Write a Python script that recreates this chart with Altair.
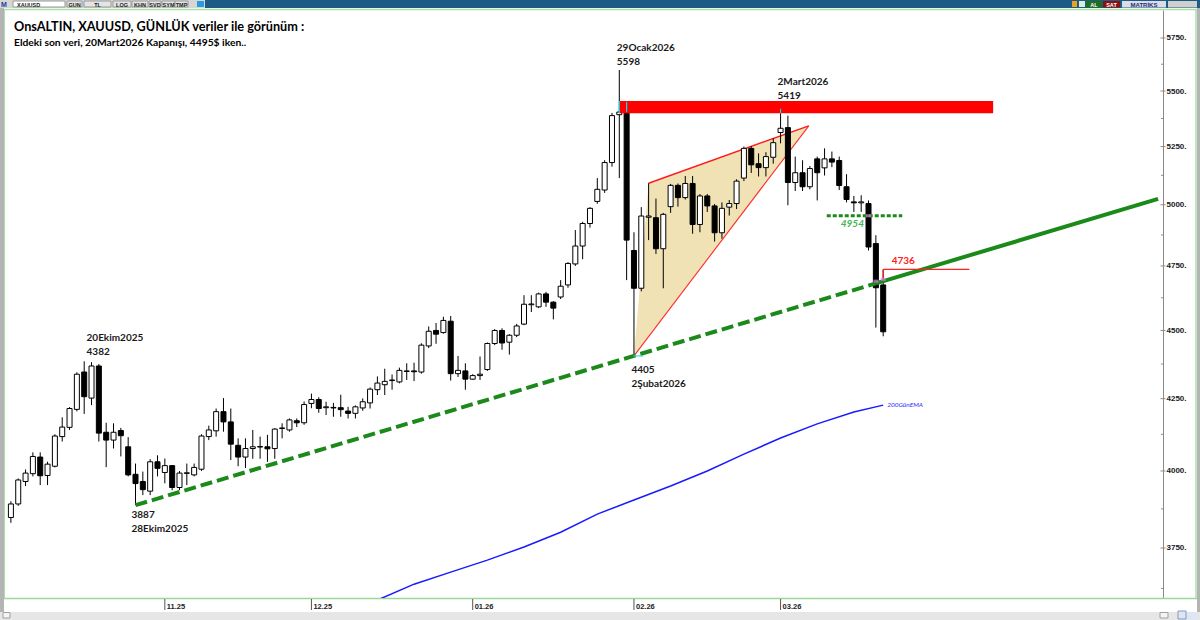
import altair as alt
import pandas as pd

# ---------------- values ----------------
# daily candles (bar index 0 = 3 Oct 2025 ... 119 = 20 Mar 2026)
opens = [3847, 3891, 3965, 3991, 4047, 3985, 4016, 4117, 4149, 4212,
         4346, 4252, 4368, 4132, 4105, 4138, 4082, 3989, 3965, 3933,
         4031, 3995, 4018, 3945, 3992, 3987, 4006, 4117, 4137, 4204,
         4168, 4087, 4047, 4076, 4081, 4082, 4076, 4145, 4140, 4172,
         4165, 4233, 4247, 4218, 4219, 4218, 4206, 4198, 4217, 4235,
         4282, 4300, 4315, 4310, 4348, 4350, 4346, 4442, 4500, 4492,
         4535, 4340, 4350, 4320, 4333, 4355, 4451, 4500, 4456, 4482,
         4524, 4598, 4590, 4640, 4608, 4628, 4675, 4758, 4830, 4922,
         5014, 5062, 5180, 5392, 5405, 4812, 4662, 4948, 4946, 4819,
         4992, 5082, 5030, 5090, 4918, 5037, 4995, 4884, 4990, 5005,
         5113, 5242, 5175, 5158, 5203, 5312, 5334, 5094, 5136, 5076,
         5196, 5157, 5196, 5189, 5076, 5012, 5008, 5005, 4840, 4675]
highs = [3900, 3975, 4005, 4063, 4063, 4031, 4125, 4184, 4220, 4345,
         4385, 4382, 4375, 4165, 4163, 4147, 4115, 4025, 3998, 4040,
         4053, 4042, 4020, 4000, 4025, 4025, 4125, 4155, 4215, 4252,
         4215, 4111, 4111, 4140, 4117, 4123, 4146, 4163, 4180, 4180,
         4240, 4268, 4255, 4239, 4235, 4264, 4221, 4226, 4251, 4290,
         4330, 4358, 4337, 4362, 4378, 4380, 4452, 4515, 4528, 4552,
         4555, 4405, 4378, 4338, 4403, 4455, 4505, 4508, 4486, 4525,
         4635, 4635, 4645, 4648, 4612, 4694, 4765, 4895, 4929, 4990,
         5113, 5190, 5400, 5598, 5450, 4886, 4990, 5091, 5026, 4966,
         5088, 5090, 5122, 5122, 5045, 5045, 5003, 5010, 5020, 5108,
         5250, 5252, 5220, 5225, 5286, 5419, 5388, 5206, 5190, 5165,
         5206, 5242, 5228, 5206, 5130, 5037, 5040, 5018, 4874, 4736]
lows = [3830, 3885, 3950, 3982, 3953, 3953, 4012, 4100, 4140, 4205,
        4196, 4227, 4100, 4013, 4076, 4049, 3982, 3887, 3920, 3920,
        3982, 3959, 3936, 3936, 3953, 3982, 4000, 4105, 4117, 4134,
        4037, 4016, 4010, 4041, 4041, 4031, 4041, 4111, 4134, 4150,
        4158, 4216, 4200, 4192, 4186, 4186, 4180, 4180, 4207, 4215,
        4263, 4263, 4282, 4305, 4317, 4313, 4340, 4434, 4450, 4488,
        4315, 4328, 4282, 4318, 4317, 4350, 4445, 4428, 4410, 4475,
        4520, 4570, 4585, 4590, 4542, 4620, 4664, 4750, 4777, 4905,
        5004, 5050, 5162, 5113, 4694, 4405, 4650, 4854, 4798, 4662,
        4966, 4992, 5022, 4880, 4886, 4970, 4848, 4860, 4955, 4982,
        5100, 5135, 5120, 5120, 5175, 5264, 4998, 5058, 5058, 5065,
        5018, 5124, 5160, 5062, 5010, 4970, 4970, 4812, 4511, 4478]
closes = [3891, 3970, 3993, 4049, 3984, 4023, 4119, 4150, 4215, 4338,
          4257, 4368, 4129, 4105, 4132, 4120, 3987, 3958, 3938, 4031,
          4009, 4018, 3945, 3993, 3994, 4012, 4119, 4140, 4204, 4168,
          4091, 4047, 4076, 4082, 4083, 4075, 4143, 4147, 4175, 4165,
          4229, 4247, 4215, 4221, 4217, 4211, 4198, 4221, 4239, 4284,
          4306, 4312, 4317, 4352, 4350, 4347, 4445, 4497, 4486, 4538,
          4340, 4352, 4320, 4333, 4338, 4451, 4500, 4453, 4482, 4517,
          4600, 4601, 4640, 4608, 4585, 4670, 4760, 4830, 4922, 4985,
          5065, 5180, 5388, 5404, 4854, 4662, 4953, 4953, 4819, 4960,
          5082, 5030, 5090, 4918, 5037, 4995, 4884, 4985, 5005, 5100,
          5242, 5170, 5158, 5206, 5267, 5331, 5094, 5136, 5076, 5154,
          5136, 5196, 5182, 5081, 5022, 5008, 5012, 4826, 4664, 4495]

month_labels = ["11.25", "12.25", "01.26", "02.26", "03.26"]
month_bars = [21, 41, 63, 85, 105]

ytick_values = [3750, 4000, 4250, 4500, 4750, 5000, 5250, 5500, 5750]
yminor_values = [3625, 3875, 4125, 4375, 4625, 4875, 5125, 5375, 5625]

# 200-day EMA (blue) read at a few bars
ema_bars = [50, 55, 60, 65, 70, 75, 80, 85, 90, 95, 100, 105, 110, 115, 119]
ema_values = [3590, 3638, 3675, 3712, 3753, 3800, 3858, 3904, 3950, 4000,
              4057, 4112, 4161, 4203, 4227]

# red resistance zone
zone_bars = [83, 134]
zone_prices = [5398, 5454]

# green rising trend line (dashed part, then solid part)
trend_dash_bars = [17, 118]
trend_dash_prices = [3887, 4681]
trend_solid_bars = [118, 156.5]
trend_solid_prices = [4681, 5025]

# rising wedge (triangle)
wedge_bars = [85, 87, 108.85]
wedge_upper = [4405, 5091, 5342]
wedge_lower = [4405, 4478, 5342]

# levels
support_level = 4954
support_bars = [111.3, 121.6]
res_level = 4736
res_bars = [119, 130.75]

# ---------------- layout ----------------
W, H = 1158, 588
LEFT, TOP = 5, 10
XS = alt.Scale(domain=[-0.122, 156.49], nice=False, zero=False)
YS = alt.Scale(type="log", domain=[3596.1, 5886.5], nice=False, zero=False)
YAX = alt.Axis(orient="right", values=ytick_values, labelExpr="datum.value + '.'",
               ticks=False, grid=False, domainColor="#8a8a8a", domainWidth=1,
               labelFont="Liberation Sans", labelFontSize=8, labelFontWeight="bold",
               labelColor="#1a1a1a", labelPadding=3, labelFlush=False,
               labelOverlap=False, title=None)


def X(f):
    return alt.X(f, type="quantitative", scale=XS, axis=None)


def Y(f):
    return alt.Y(f, type="quantitative", scale=YS, axis=YAX)


one = pd.DataFrame({"k": [0]})


def px_rect(x1, y1, x2, y2, fill, stroke=""):
    kw = dict(fill=fill)
    if stroke:
        kw.update(stroke=stroke, strokeWidth=1)
    return alt.Chart(one).mark_rect(**kw).encode(
        x=alt.value(x1 - LEFT), x2=alt.value(x2 - LEFT),
        y=alt.value(y1 - TOP), y2=alt.value(y2 - TOP))


def px_rule(x1, y1, x2, y2, color, width=1.0):
    return alt.Chart(one).mark_rule(color=color, strokeWidth=width).encode(
        x=alt.value(x1 - LEFT), x2=alt.value(x2 - LEFT),
        y=alt.value(y1 - TOP), y2=alt.value(y2 - TOP))


def px_text(t, x, y, size, color="#000000", weight="normal", font="Lato",
            align="left", baseline="alphabetic", style="normal"):
    return alt.Chart(pd.DataFrame({"t": [t]})).mark_text(
        font=font, fontSize=size, fontWeight=weight, fontStyle=style,
        color=color, align=align, baseline=baseline).encode(
        x=alt.value(x - LEFT), y=alt.value(y - TOP), text="t:N")


def note(t, i, p, dx, dy, size=10, color="#1a1a1a", weight="bold", style="normal"):
    return alt.Chart(pd.DataFrame({"t": [t], "i": [i], "p": [p]})).mark_text(
        font="Lato", fontSize=size, fontWeight=weight, fontStyle=style, color=color,
        align="left", baseline="middle", dx=dx, dy=dy).encode(
        x=X("i"), y=Y("p"), text="t:N")


candles = pd.DataFrame({"i": list(range(len(opens))), "o": opens, "h": highs,
                        "l": lows, "c": closes})

layers = []

# wedge fill + edges
wedge = pd.DataFrame({"i": wedge_bars, "u": wedge_upper, "lo": wedge_lower})
layers.append(alt.Chart(wedge).mark_area(color="#f0e2b4", opacity=1).encode(
    x=X("i"), y=Y("u"), y2=alt.Y2("lo")))
upper_edge = pd.DataFrame({"i": wedge_bars[1:], "p": wedge_upper[1:]})
lower_edge = pd.DataFrame({"i": [wedge_bars[0], wedge_bars[2]],
                           "p": [wedge_lower[0], wedge_lower[2]]})
layers.append(alt.Chart(upper_edge).mark_line(color="#ff1a1a", strokeWidth=1.4).encode(
    x=X("i"), y=Y("p")))
layers.append(alt.Chart(lower_edge).mark_line(color="#ff2a2a", strokeWidth=1.1).encode(
    x=X("i"), y=Y("p")))

# EMA
ema = pd.DataFrame({"i": ema_bars, "p": ema_values})
layers.append(alt.Chart(ema).mark_line(color="#1a1aff", strokeWidth=1.5, clip=True).encode(
    x=X("i"), y=Y("p")))

# candles
layers.append(alt.Chart(candles).mark_rule(color="#000000", strokeWidth=1).encode(
    x=X("i"), y=Y("l"), y2=alt.Y2("h")))
layers.append(alt.Chart(candles).mark_bar(width=5, stroke="#000000", strokeWidth=1).encode(
    x=X("i"), y=Y("o"), y2=alt.Y2("c"),
    fill=alt.condition("datum.c >= datum.o", alt.value("#ffffff"), alt.value("#000000"))))

# red resistance zone
zone = pd.DataFrame({"i0": [zone_bars[0]], "i1": [zone_bars[1]],
                     "p0": [zone_prices[0]], "p1": [zone_prices[1]]})
layers.append(alt.Chart(zone).mark_rect(color="#ff0000").encode(
    x=X("i0"), x2=alt.X2("i1"), y=Y("p0"), y2=alt.Y2("p1")))
# wick parts inside the zone (cyan)
cy = pd.DataFrame({"i": [83, 84, 105], "a": [5398, 5405, 5398], "b": [5454, 5450, 5419]})
layers.append(alt.Chart(cy).mark_rule(color="#22d3e6", strokeWidth=1.2).encode(
    x=X("i"), y=Y("a"), y2=alt.Y2("b")))

# green trend line
td = pd.DataFrame({"i": trend_dash_bars, "p": trend_dash_prices})
ts = pd.DataFrame({"i": trend_solid_bars, "p": trend_solid_prices})
layers.append(alt.Chart(td).mark_line(color="#1b8a1b", strokeWidth=4, strokeDash=[12, 5],
                                      clip=True).encode(x=X("i"), y=Y("p")))
layers.append(alt.Chart(ts).mark_line(color="#1b8a1b", strokeWidth=4, clip=True).encode(
    x=X("i"), y=Y("p")))

# dotted support 4954
sup = pd.DataFrame({"i": support_bars, "p": [support_level, support_level]})
layers.append(alt.Chart(sup).mark_line(color="#1b8a1b", strokeWidth=3, strokeDash=[4, 2]).encode(
    x=X("i"), y=Y("p")))
# red 4736 line
res = pd.DataFrame({"i": res_bars, "p": [res_level, res_level]})
layers.append(alt.Chart(res).mark_line(color="#ff2020", strokeWidth=1.3).encode(
    x=X("i"), y=Y("p")))
resv = pd.DataFrame({"i": [res_bars[0]], "a": [res_level], "b": [4700]})
layers.append(alt.Chart(resv).mark_rule(color="#ff2020", strokeWidth=1.3).encode(
    x=X("i"), y=Y("a"), y2=alt.Y2("b")))

# pink crossing marks
pk = pd.DataFrame({"i": [117, 118, 119], "p": [support_level, 4690, 4697]})
layers.append(alt.Chart(pk).mark_tick(orient="horizontal", size=5, thickness=3,
                                      color="#e879e8").encode(x=X("i"), y=Y("p")))
ck = pd.DataFrame({"i": [85.6], "p": [4405]})
layers.append(alt.Chart(ck).mark_tick(orient="horizontal", size=10, thickness=1.5,
                                      color="#22d3e6").encode(x=X("i"), y=Y("p")))

# annotations
layers.append(note("20Ekim2025", 11, highs[11], -5, -24))
layers.append(note("4382", 11, highs[11], -5, -10))
layers.append(note("3887", 17, lows[17], -4, 10))
layers.append(note("28Ekim2025", 17, lows[17], -4, 24))
layers.append(note("29Ocak2026", 83, highs[83], -2.5, -22))
layers.append(note("5598", 83, highs[83], -2.5, -8))
layers.append(note("2Mart2026", 105, highs[105], -3, -27))
layers.append(note("5419", 105, highs[105], -3, -13))
layers.append(note("4405", 85, lows[85], -2.5, 14))
layers.append(note("2Şubat2026", 85, lows[85], -2.5, 28))
layers.append(note("4954", support_bars[0], support_level, 14, 8.5, size=10,
                   color="#3fb555", weight="bold", style="italic"))
layers.append(note("4736", res_bars[0], res_level, 8.5, -8, size=10,
                   color="#ff2020", weight="bold"))
layers.append(note("200GünEMA", ema_bars[-1], ema_values[-1], 4, 0, size=6.5,
                   color="#2a2aff", weight="normal", style="italic"))

# right axis ticks (major crossing the axis line, minor inside)
yt = pd.DataFrame({"p": ytick_values})
layers.append(alt.Chart(yt).mark_rule(color="#8a8a8a", strokeWidth=1).encode(
    x=alt.value(W - 2.5), x2=alt.value(W + 2.5), y=Y("p")))
ym = pd.DataFrame({"p": yminor_values})
layers.append(alt.Chart(ym).mark_rule(color="#8a8a8a", strokeWidth=1).encode(
    x=alt.value(W - 2), x2=alt.value(W), y=Y("p")))

# month ticks and labels
mt = pd.DataFrame({"i": month_bars, "t": month_labels})
layers.append(alt.Chart(mt).mark_rule(color="#555555", strokeWidth=1).encode(
    x=X("i"), y=alt.value(H + 1), y2=alt.value(H + 12)))
layers.append(alt.Chart(mt).mark_text(font="Liberation Sans", fontSize=7.5, fontWeight="bold",
                                      color="#222222", align="left", baseline="alphabetic",
                                      dx=2).encode(
    x=X("i"), y=alt.value(H + 11), text="t:N"))

# frame / toolbar decorations (pixel positions of the surrounding window)
deco = [
    px_rect(0, 0, 1200, 8, "#1d5a86"),
    px_rect(0, 0, 205, 8, "#d6d6d6"),
    px_rect(13, 1, 65, 7, "#ffffff", "#9a9a9a"),
    px_rect(67, 1, 82, 7, "#e4e4e4", "#9a9a9a"),
    px_rect(84, 1, 111, 7, "#e4e4e4", "#9a9a9a"),
    px_rect(113, 1, 131, 7, "#e4e4e4", "#9a9a9a"),
    px_rect(132, 1, 148, 7, "#e4e4e4", "#9a9a9a"),
    px_rect(149, 1, 161, 7, "#e4e4e4", "#9a9a9a"),
    px_rect(162, 1, 175, 7, "#e4e4e4", "#9a9a9a"),
    px_rect(175, 1, 188, 7, "#e4e4e4", "#9a9a9a"),
    px_rect(197, 1, 204, 7, "#2a9be0"),
    px_text("M", 1, 7, 7, "#1d3f9a", "bold", "Liberation Sans"),
    px_text("XAUUSD", 17, 6.5, 5.5, "#222222", "bold", "Liberation Sans"),
    px_text("GUN", 74.5, 6.5, 5.5, "#222222", "bold", "Liberation Sans", "center"),
    px_text("TL", 97.5, 6.5, 5.5, "#222222", "bold", "Liberation Sans", "center"),
    px_text("LOG", 122, 6.5, 5.5, "#222222", "bold", "Liberation Sans", "center"),
    px_text("KHN", 140, 6.5, 5.5, "#222222", "bold", "Liberation Sans", "center"),
    px_text("SVD", 155, 6.5, 5.5, "#222222", "bold", "Liberation Sans", "center"),
    px_text("SYM", 168.5, 6.5, 5.5, "#222222", "bold", "Liberation Sans", "center"),
    px_text("TMP", 181.5, 6.5, 5.5, "#222222", "bold", "Liberation Sans", "center"),
    px_rect(1072, 1, 1077, 7, "#f0a020"),
    px_rect(1079, 1, 1085, 7, "#d8eed8"),
    px_rect(1086, 1, 1102, 7.5, "#1e6e1e"),
    px_text("AL", 1094, 6.5, 5.5, "#ffffff", "bold", "Liberation Sans", "center"),
    px_rect(1103, 1, 1120, 7.5, "#8c1010"),
    px_text("SAT", 1111.5, 6.5, 5.5, "#ffffff", "bold", "Liberation Sans", "center"),
    px_rect(1122, 1, 1166, 7.5, "#dcdce8"),
    px_text("MATRİKS", 1144, 6.5, 6, "#1d2f7a", "bold", "Liberation Sans", "center"),
    px_rect(1168, 1, 1197, 7.5, "#cfcfcf"),
    px_rect(0, 8, 4, 620, "#b4b4b4"),
    px_rect(1197, 8, 1200, 620, "#b4b4b4"),
    px_rule(4, 9.5, 1197, 9.5, "#a8e0a8", 1.5),
    px_rule(4.5, 9.5, 4.5, 598, "#a8e0a8", 1),
    px_rule(1196, 9.5, 1196, 598, "#a8e0a8", 1.5),
    px_rule(4, 598.5, 1197, 598.5, "#9ad89a", 1.5),
    px_rect(0, 612, 1200, 620, "#e6e6e6"),
    px_rect(3, 612.5, 10, 618, "#f4f4f4", "#a0a0a0"),
    px_rect(1160, 612.5, 1168, 618, "#f4f4f4", "#a0a0a0"),
    px_rect(1178, 611, 1186, 619, "#dde6f4", "#8899bb"),
    px_rect(1187, 612, 1197, 619, "#dde6f4"),
    px_text("OnsALTIN, XAUUSD, GÜNLÜK veriler ile görünüm :", 14, 30.5, 12.7, "#000000", "bold"),
    px_text("Eldeki son veri, 20Mart2026 Kapanışı, 4495$ iken..", 14, 45.5, 10.3, "#000000", "bold"),
]

chart = alt.layer(*deco, *layers).properties(
    width=W, height=H,
    padding={"left": LEFT, "top": TOP, "right": 1200 - LEFT - W, "bottom": 620 - TOP - H},
    autosize=alt.AutoSizeParams(type="none"),
    background="#ffffff",
).configure_view(stroke=None)

chart.save("out.html", embed_options={"renderer": "svg", "actions": False})
